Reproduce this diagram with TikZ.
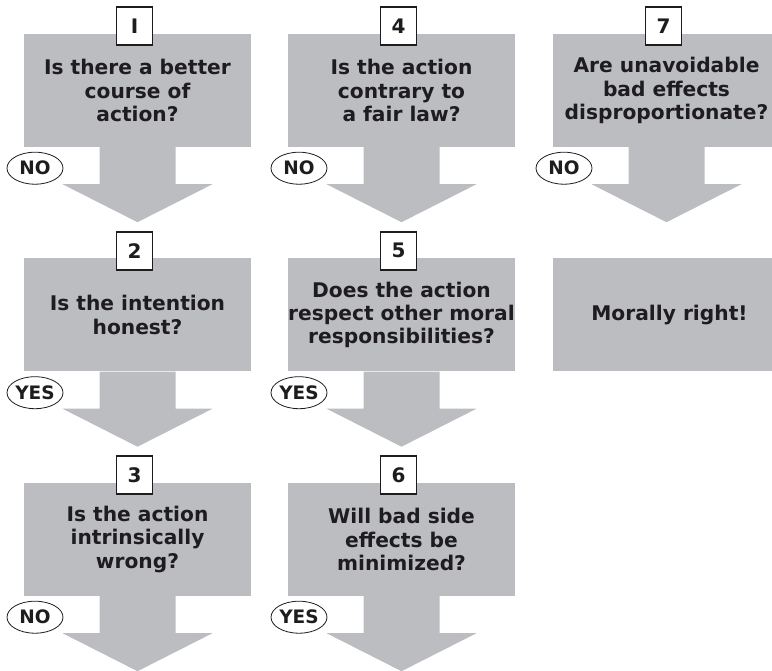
\documentclass[tikz,border=0pt]{standalone}
\usepackage{fontspec}
\setmainfont{DejaVu Sans}
\usetikzlibrary{shapes.geometric,calc}

\definecolor{boxgrey}{RGB}{188,189,193}
\definecolor{ink}{RGB}{30,28,30}

\tikzset{
  qbox/.style={fill=boxgrey, minimum width=227pt, minimum height=113pt,
    inner sep=0pt, align=center, text=ink,
    font=\fontsize{20.2}{23.3}\selectfont\bfseries},
  numbox/.style={draw=ink, line width=1.8pt, fill=white,
    minimum width=36pt, minimum height=38pt, inner sep=0pt, text=ink,
    font=\fontsize{20}{22}\selectfont\bfseries},
  tag/.style={ellipse, draw=ink, line width=0.8pt, fill=white,
    minimum width=56pt, minimum height=32pt, inner sep=0pt, text=ink,
    font=\fontsize{18.5}{22}\selectfont\bfseries},
  blockarrow/.style={fill=boxgrey}
}

% block arrow hanging below a question box
\newcommand{\downarrowfrom}[1]{%
  \fill[blockarrow] ($(#1.south)+(-38,0)$) -- ($(#1.south)+(38,0)$)
    -- ($(#1.south)+(38,37)$) -- ($(#1.south)+(75,37)$)
    -- ($(#1.south)+(0,75)$) -- ($(#1.south)+(-75,37)$)
    -- ($(#1.south)+(-38,37)$) -- cycle;}

\begin{document}
\begin{tikzpicture}[x=1pt,y=-1pt]
\useasboundingbox (0,0) rectangle (772,671);

% question boxes
\node[qbox] (q1) at (137.5,90.5) {Is there a better\\course of\\action?};
\node[qbox] (q2) at (137.5,315) {Is the intention\\honest?};
\node[qbox] (q3) at (137.5,539.5) {Is the action\\intrinsically\\wrong?};
\node[qbox] (q4) at (401.5,90.5) {Is the action\\contrary to\\a fair law?};
\node[qbox] (q5) at (401.5,315) {Does the action\\respect other moral\\responsibilities?};
\node[qbox] (q6) at (401.5,539.5) {Will bad side\\effects be\\minimized?};
\node[qbox] (q7) at (666.5,90.5) {Are unavoidable\\bad effects\\disproportionate?};
\node[qbox] (ok) at (666.5,315) {\hspace*{6pt}Morally right!};

% step numbers
\foreach \q/\n in {q1/I,q2/2,q3/3,q4/4,q5/5,q6/6,q7/7}
  \node[numbox] (n-\q) at ($(\q.north)+(-3,-7.5)$) {\n};

% arrows with answers
\foreach \q/\a in {q1/NO,q2/YES,q3/NO,q4/NO,q5/YES,q6/YES,q7/NO}{
  \downarrowfrom{\q}
  \node[tag] (t-\q) at ($(\q.south)+(-102.5,21)$) {\a};
}
\end{tikzpicture}
\end{document}
